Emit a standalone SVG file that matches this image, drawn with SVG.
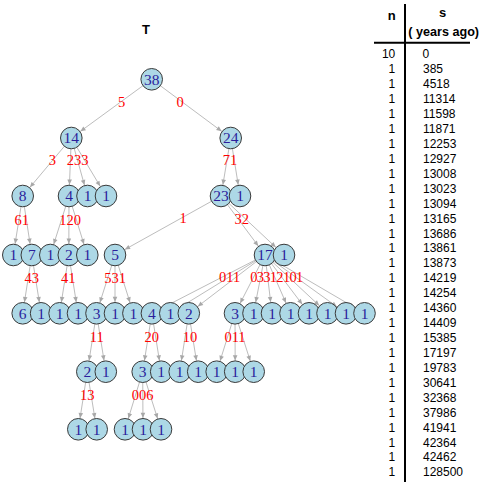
<svg xmlns="http://www.w3.org/2000/svg" width="485" height="483" viewBox="0 0 485 483">
<style>
.e line{stroke:#BDBDBD;stroke-width:1;fill:none;marker-end:url(#ah)}
.nd circle{fill:#ADD8E6;stroke:#3A3A3A;stroke-width:1}
.nd text{font-family:"Liberation Serif","Times New Roman",serif;font-size:15.5px;fill:#2B1E9C;text-anchor:middle}
.el{font-family:"Liberation Serif","Times New Roman",serif;font-size:14.5px;fill:#FF0000;text-anchor:middle}
.tb{font-family:"Liberation Sans",Arial,sans-serif;font-size:12px;fill:#000}
.tn{text-anchor:end}
.hd{font-family:"Liberation Sans",Arial,sans-serif;font-weight:bold;fill:#000;text-anchor:middle}
</style>
<defs>
<marker id="ah" markerUnits="userSpaceOnUse" markerWidth="18" markerHeight="8" viewBox="0 0 18 8" refX="18" refY="4" orient="auto">
<path d="M1.5,1.7 L6.7,4 L1.5,6.3 Z" fill="#A8A8A8"/>
</marker>
</defs>
<text class="hd" x="146" y="34" font-size="13">T</text>
<g id="connectors" class="e">
<line x1="151.7" y1="79.3" x2="71.3" y2="138"/>
<line x1="151.7" y1="79.3" x2="230.7" y2="138"/>
<line x1="71.3" y1="138" x2="22.7" y2="196"/>
<line x1="71.3" y1="138" x2="69" y2="196"/>
<line x1="71.3" y1="138" x2="87.5" y2="196"/>
<line x1="71.3" y1="138" x2="106" y2="196"/>
<line x1="230.7" y1="138" x2="221" y2="196"/>
<line x1="230.7" y1="138" x2="240" y2="196"/>
<line x1="22.7" y1="196" x2="13.3" y2="255"/>
<line x1="22.7" y1="196" x2="31.8" y2="255"/>
<line x1="69" y1="196" x2="50.3" y2="255"/>
<line x1="69" y1="196" x2="68.8" y2="255"/>
<line x1="69" y1="196" x2="87.3" y2="255"/>
<line x1="221" y1="196" x2="115" y2="255"/>
<line x1="221" y1="196" x2="265" y2="255"/>
<line x1="221" y1="196" x2="284" y2="255"/>
<line x1="31.8" y1="255" x2="22.7" y2="313.3"/>
<line x1="31.8" y1="255" x2="41.1" y2="313.3"/>
<line x1="68.8" y1="255" x2="59.6" y2="313.3"/>
<line x1="68.8" y1="255" x2="78" y2="313.3"/>
<line x1="115" y1="255" x2="96.5" y2="313.3"/>
<line x1="115" y1="255" x2="115" y2="313.3"/>
<line x1="115" y1="255" x2="133.4" y2="313.3"/>
<line x1="265" y1="255" x2="151.9" y2="313.3"/>
<line x1="265" y1="255" x2="170.3" y2="313.3"/>
<line x1="265" y1="255" x2="188.8" y2="313.3"/>
<line x1="265" y1="255" x2="235" y2="313.3"/>
<line x1="265" y1="255" x2="253.5" y2="313.3"/>
<line x1="265" y1="255" x2="272" y2="313.3"/>
<line x1="265" y1="255" x2="290.5" y2="313.3"/>
<line x1="265" y1="255" x2="309" y2="313.3"/>
<line x1="265" y1="255" x2="327.5" y2="313.3"/>
<line x1="265" y1="255" x2="346" y2="313.3"/>
<line x1="265" y1="255" x2="364.5" y2="313.3"/>
<line x1="96.5" y1="313.3" x2="87.3" y2="371.7"/>
<line x1="96.5" y1="313.3" x2="105.8" y2="371.7"/>
<line x1="151.9" y1="313.3" x2="142.7" y2="371.7"/>
<line x1="151.9" y1="313.3" x2="161.2" y2="371.7"/>
<line x1="188.8" y1="313.3" x2="179.7" y2="371.7"/>
<line x1="188.8" y1="313.3" x2="198.2" y2="371.7"/>
<line x1="235" y1="313.3" x2="216.7" y2="371.7"/>
<line x1="235" y1="313.3" x2="235.2" y2="371.7"/>
<line x1="235" y1="313.3" x2="253.7" y2="371.7"/>
<line x1="87.3" y1="371.7" x2="78.3" y2="429.3"/>
<line x1="87.3" y1="371.7" x2="96.7" y2="429.3"/>
<line x1="142.7" y1="371.7" x2="125" y2="429.3"/>
<line x1="142.7" y1="371.7" x2="143" y2="429.3"/>
<line x1="142.7" y1="371.7" x2="161" y2="429.3"/>
</g>
<g id="edge-labels">
<text class="el" x="121.7" y="107">5</text>
<text class="el" x="180" y="107">0</text>
<text class="el" x="52.3" y="165">3</text>
<text class="el" x="77.5" y="165">233</text>
<text class="el" x="230" y="165">71</text>
<text class="el" x="21.7" y="225">61</text>
<text class="el" x="70" y="225">120</text>
<text class="el" x="183" y="223">1</text>
<text class="el" x="241.7" y="224">32</text>
<text class="el" x="31.7" y="283">43</text>
<text class="el" x="68.3" y="283">41</text>
<text class="el" x="115" y="283">531</text>
<text class="el" x="229.7" y="282">011</text>
<text class="el" x="276.7" y="282" textLength="53" lengthAdjust="spacing">03312101</text>
<text class="el" x="96.7" y="341.7">11</text>
<text class="el" x="151.7" y="341.7">20</text>
<text class="el" x="190" y="341.7">10</text>
<text class="el" x="235" y="341.7">011</text>
<text class="el" x="87.3" y="400">13</text>
<text class="el" x="142.7" y="400">006</text>
</g>
<g id="n38" class="nd"><circle cx="151.7" cy="79.3" r="10.8"/><text x="151.7" y="84.6">38</text></g>
<g id="n14" class="nd"><circle cx="71.3" cy="138" r="10.8"/><text x="71.3" y="143.3">14</text></g>
<g id="n24" class="nd"><circle cx="230.7" cy="138" r="10.8"/><text x="230.7" y="143.3">24</text></g>
<g id="r2a" class="nd"><circle cx="22.7" cy="196" r="10.8"/><text x="22.7" y="201.3">8</text></g>
<g id="r2b" class="nd"><circle cx="69" cy="196" r="10.8"/><text x="69" y="201.3">4</text></g>
<g id="r2c" class="nd"><circle cx="87.5" cy="196" r="10.8"/><text x="87.5" y="201.3">1</text></g>
<g id="r2d" class="nd"><circle cx="106" cy="196" r="10.8"/><text x="106" y="201.3">1</text></g>
<g id="r2e" class="nd"><circle cx="221" cy="196" r="10.8"/><text x="221" y="201.3">23</text></g>
<g id="r2f" class="nd"><circle cx="240" cy="196" r="10.8"/><text x="240" y="201.3">1</text></g>
<g id="r3a" class="nd"><circle cx="13.3" cy="255" r="10.8"/><text x="13.3" y="260.3">1</text></g>
<g id="r3b" class="nd"><circle cx="31.8" cy="255" r="10.8"/><text x="31.8" y="260.3">7</text></g>
<g id="r3c" class="nd"><circle cx="50.3" cy="255" r="10.8"/><text x="50.3" y="260.3">1</text></g>
<g id="r3d" class="nd"><circle cx="68.8" cy="255" r="10.8"/><text x="68.8" y="260.3">2</text></g>
<g id="r3e" class="nd"><circle cx="87.3" cy="255" r="10.8"/><text x="87.3" y="260.3">1</text></g>
<g id="r3f" class="nd"><circle cx="115" cy="255" r="10.8"/><text x="115" y="260.3">5</text></g>
<g id="r3g" class="nd"><circle cx="265" cy="255" r="10.8"/><text x="265" y="260.3">17</text></g>
<g id="r3h" class="nd"><circle cx="284" cy="255" r="10.8"/><text x="284" y="260.3">1</text></g>
<g id="r4a" class="nd"><circle cx="22.7" cy="313.3" r="10.8"/><text x="22.7" y="318.6">6</text></g>
<g id="r4b" class="nd"><circle cx="41.1" cy="313.3" r="10.8"/><text x="41.1" y="318.6">1</text></g>
<g id="r4c" class="nd"><circle cx="59.6" cy="313.3" r="10.8"/><text x="59.6" y="318.6">1</text></g>
<g id="r4d" class="nd"><circle cx="78" cy="313.3" r="10.8"/><text x="78" y="318.6">1</text></g>
<g id="r4e" class="nd"><circle cx="96.5" cy="313.3" r="10.8"/><text x="96.5" y="318.6">3</text></g>
<g id="r4f" class="nd"><circle cx="115" cy="313.3" r="10.8"/><text x="115" y="318.6">1</text></g>
<g id="r4g" class="nd"><circle cx="133.4" cy="313.3" r="10.8"/><text x="133.4" y="318.6">1</text></g>
<g id="r4h" class="nd"><circle cx="151.9" cy="313.3" r="10.8"/><text x="151.9" y="318.6">4</text></g>
<g id="r4i" class="nd"><circle cx="170.3" cy="313.3" r="10.8"/><text x="170.3" y="318.6">1</text></g>
<g id="r4j" class="nd"><circle cx="188.8" cy="313.3" r="10.8"/><text x="188.8" y="318.6">2</text></g>
<g id="r4k" class="nd"><circle cx="235" cy="313.3" r="10.8"/><text x="235" y="318.6">3</text></g>
<g id="r4l" class="nd"><circle cx="253.5" cy="313.3" r="10.8"/><text x="253.5" y="318.6">1</text></g>
<g id="r4m" class="nd"><circle cx="272" cy="313.3" r="10.8"/><text x="272" y="318.6">1</text></g>
<g id="r4n" class="nd"><circle cx="290.5" cy="313.3" r="10.8"/><text x="290.5" y="318.6">1</text></g>
<g id="r4o" class="nd"><circle cx="309" cy="313.3" r="10.8"/><text x="309" y="318.6">1</text></g>
<g id="r4p" class="nd"><circle cx="327.5" cy="313.3" r="10.8"/><text x="327.5" y="318.6">1</text></g>
<g id="r4q" class="nd"><circle cx="346" cy="313.3" r="10.8"/><text x="346" y="318.6">1</text></g>
<g id="r4r" class="nd"><circle cx="364.5" cy="313.3" r="10.8"/><text x="364.5" y="318.6">1</text></g>
<g id="r5a" class="nd"><circle cx="87.3" cy="371.7" r="10.8"/><text x="87.3" y="377">2</text></g>
<g id="r5b" class="nd"><circle cx="105.8" cy="371.7" r="10.8"/><text x="105.8" y="377">1</text></g>
<g id="r5c" class="nd"><circle cx="142.7" cy="371.7" r="10.8"/><text x="142.7" y="377">3</text></g>
<g id="r5d" class="nd"><circle cx="161.2" cy="371.7" r="10.8"/><text x="161.2" y="377">1</text></g>
<g id="r5e" class="nd"><circle cx="179.7" cy="371.7" r="10.8"/><text x="179.7" y="377">1</text></g>
<g id="r5f" class="nd"><circle cx="198.2" cy="371.7" r="10.8"/><text x="198.2" y="377">1</text></g>
<g id="r5g" class="nd"><circle cx="216.7" cy="371.7" r="10.8"/><text x="216.7" y="377">1</text></g>
<g id="r5h" class="nd"><circle cx="235.2" cy="371.7" r="10.8"/><text x="235.2" y="377">1</text></g>
<g id="r5i" class="nd"><circle cx="253.7" cy="371.7" r="10.8"/><text x="253.7" y="377">1</text></g>
<g id="r6a" class="nd"><circle cx="78.3" cy="429.3" r="10.8"/><text x="78.3" y="434.6">1</text></g>
<g id="r6b" class="nd"><circle cx="96.7" cy="429.3" r="10.8"/><text x="96.7" y="434.6">1</text></g>
<g id="r6c" class="nd"><circle cx="125" cy="429.3" r="10.8"/><text x="125" y="434.6">1</text></g>
<g id="r6d" class="nd"><circle cx="143" cy="429.3" r="10.8"/><text x="143" y="434.6">1</text></g>
<g id="r6e" class="nd"><circle cx="161" cy="429.3" r="10.8"/><text x="161" y="434.6">1</text></g>
<g id="table">
<text class="hd" x="391.7" y="20" font-size="13">n</text>
<text class="hd" x="442.7" y="17.3" font-size="13">s</text>
<text class="hd" x="443.7" y="35.5" font-size="12.6">( years ago)</text>
<line x1="374" y1="42.7" x2="470" y2="42.7" stroke="#000" stroke-width="2"/>
<line x1="405" y1="4" x2="405" y2="482" stroke="#000" stroke-width="2"/>
<g class="tb tn">
<text x="395.3" y="58.3">10</text>
<text x="395.3" y="73.2">1</text>
<text x="395.3" y="88.2">1</text>
<text x="395.3" y="103.1">1</text>
<text x="395.3" y="118">1</text>
<text x="395.3" y="133">1</text>
<text x="395.3" y="147.9">1</text>
<text x="395.3" y="162.8">1</text>
<text x="395.3" y="177.7">1</text>
<text x="395.3" y="192.7">1</text>
<text x="395.3" y="207.6">1</text>
<text x="395.3" y="222.5">1</text>
<text x="395.3" y="237.5">1</text>
<text x="395.3" y="252.4">1</text>
<text x="395.3" y="267.3">1</text>
<text x="395.3" y="282.3">1</text>
<text x="395.3" y="297.2">1</text>
<text x="395.3" y="312.1">1</text>
<text x="395.3" y="327">1</text>
<text x="395.3" y="342">1</text>
<text x="395.3" y="356.9">1</text>
<text x="395.3" y="371.8">1</text>
<text x="395.3" y="386.8">1</text>
<text x="395.3" y="401.7">1</text>
<text x="395.3" y="416.6">1</text>
<text x="395.3" y="431.6">1</text>
<text x="395.3" y="446.5">1</text>
<text x="395.3" y="461.4">1</text>
<text x="395.3" y="476.3">1</text>
</g>
<g class="tb">
<text x="422.5" y="58.3">0</text>
<text x="423" y="73.2">385</text>
<text x="423" y="88.2">4518</text>
<text x="423" y="103.1">11314</text>
<text x="423" y="118">11598</text>
<text x="423" y="133">11871</text>
<text x="423" y="147.9">12253</text>
<text x="423" y="162.8">12927</text>
<text x="423" y="177.7">13008</text>
<text x="423" y="192.7">13023</text>
<text x="423" y="207.6">13094</text>
<text x="423" y="222.5">13165</text>
<text x="423" y="237.5">13686</text>
<text x="423" y="252.4">13861</text>
<text x="423" y="267.3">13873</text>
<text x="423" y="282.3">14219</text>
<text x="423" y="297.2">14254</text>
<text x="423" y="312.1">14360</text>
<text x="423" y="327">14409</text>
<text x="423" y="342">15385</text>
<text x="423" y="356.9">17197</text>
<text x="423" y="371.8">19783</text>
<text x="423" y="386.8">30641</text>
<text x="423" y="401.7">32368</text>
<text x="423" y="416.6">37986</text>
<text x="423" y="431.6">41941</text>
<text x="423" y="446.5">42364</text>
<text x="423" y="461.4">42462</text>
<text x="423" y="476.3">128500</text>
</g>
</g>
</svg>
